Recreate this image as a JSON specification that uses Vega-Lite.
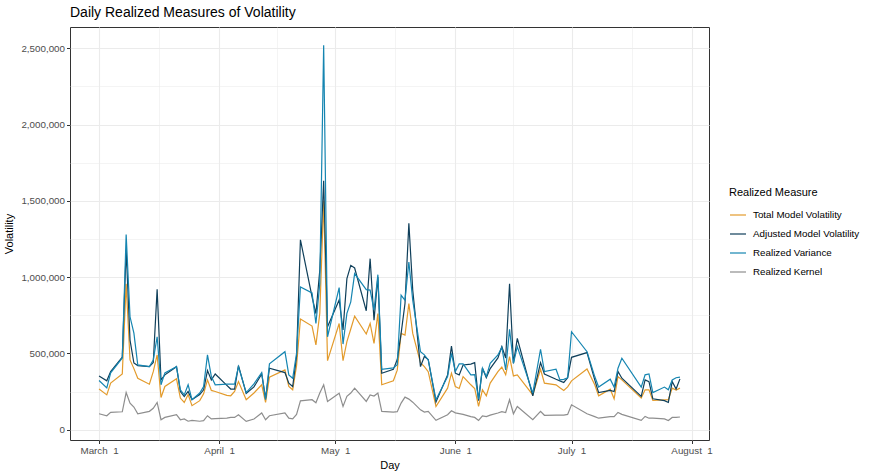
{
  "$schema": "https://vega.github.io/schema/vega-lite/v6.json",
  "width": 639,
  "height": 413,
  "autosize": "none",
  "padding": {"left": 70, "top": 27, "right": 163, "bottom": 36},
  "title": {
    "text": "Daily Realized Measures of Volatility",
    "anchor": "start",
    "frame": "group",
    "fontSize": 14,
    "fontWeight": "normal",
    "color": "#000000",
    "offset": 7
  },
  "config": {
    "font": "Liberation Sans",
    "view": {"stroke": "#333333", "strokeWidth": 1},
    "axis": {
      "domain": false,
      "labelFont": "Liberation Sans",
      "labelFontSize": 9.8,
      "labelColor": "#4d4d4d",
      "tickColor": "#333333",
      "tickSize": 3.5,
      "labelPadding": 2,
      "titleFont": "Liberation Sans",
      "titleFontSize": 11,
      "titleFontWeight": "normal",
      "titleColor": "#000000",
      "gridColor": "#ebebeb"
    },
    "legend": {
      "titleFont": "Liberation Sans",
      "titleFontSize": 11,
      "titleFontWeight": "normal",
      "titleColor": "#000000",
      "labelFont": "Liberation Sans",
      "labelFontSize": 9.8,
      "labelColor": "#000000"
    }
  },
  "data": {
    "values": [
      {"date": "2015-03-01", "Total Model Volatility": 266000, "Adjusted Model Volatility": 352000, "Realized Variance": 322000, "Realized Kernel": 104000},
      {"date": "2015-03-03", "Total Model Volatility": 228000, "Adjusted Model Volatility": 320000, "Realized Variance": 274000, "Realized Kernel": 91000},
      {"date": "2015-03-04", "Total Model Volatility": 305000, "Adjusted Model Volatility": 381000, "Realized Variance": 372000, "Realized Kernel": 113000},
      {"date": "2015-03-07", "Total Model Volatility": 365000, "Adjusted Model Volatility": 476000, "Realized Variance": 470000, "Realized Kernel": 117000},
      {"date": "2015-03-08", "Total Model Volatility": 957000, "Adjusted Model Volatility": 1180000, "Realized Variance": 1280000, "Realized Kernel": 243000},
      {"date": "2015-03-09", "Total Model Volatility": 457000, "Adjusted Model Volatility": 587000, "Realized Variance": 740000, "Realized Kernel": 174000},
      {"date": "2015-03-10", "Total Model Volatility": 400000, "Adjusted Model Volatility": 437000, "Realized Variance": 633000, "Realized Kernel": 148000},
      {"date": "2015-03-11", "Total Model Volatility": 337000, "Adjusted Model Volatility": 420000, "Realized Variance": 424000, "Realized Kernel": 104000},
      {"date": "2015-03-14", "Total Model Volatility": 298000, "Adjusted Model Volatility": 413000, "Realized Variance": 413000, "Realized Kernel": 120000},
      {"date": "2015-03-15", "Total Model Volatility": 380000, "Adjusted Model Volatility": 440000, "Realized Variance": 457000, "Realized Kernel": 140000},
      {"date": "2015-03-16", "Total Model Volatility": 490000, "Adjusted Model Volatility": 920000, "Realized Variance": 609000, "Realized Kernel": 178000},
      {"date": "2015-03-17", "Total Model Volatility": 211000, "Adjusted Model Volatility": 326000, "Realized Variance": 294000, "Realized Kernel": 65000},
      {"date": "2015-03-18", "Total Model Volatility": 283000, "Adjusted Model Volatility": 359000, "Realized Variance": 372000, "Realized Kernel": 80000},
      {"date": "2015-03-21", "Total Model Volatility": 333000, "Adjusted Model Volatility": 413000, "Realized Variance": 413000, "Realized Kernel": 98000},
      {"date": "2015-03-22", "Total Model Volatility": 207000, "Adjusted Model Volatility": 250000, "Realized Variance": 261000, "Realized Kernel": 65000},
      {"date": "2015-03-23", "Total Model Volatility": 178000, "Adjusted Model Volatility": 217000, "Realized Variance": 228000, "Realized Kernel": 70000},
      {"date": "2015-03-24", "Total Model Volatility": 230000, "Adjusted Model Volatility": 250000, "Realized Variance": 294000, "Realized Kernel": 55000},
      {"date": "2015-03-25", "Total Model Volatility": 157000, "Adjusted Model Volatility": 196000, "Realized Variance": 196000, "Realized Kernel": 60000},
      {"date": "2015-03-27", "Total Model Volatility": 190000, "Adjusted Model Volatility": 230000, "Realized Variance": 240000, "Realized Kernel": 55000},
      {"date": "2015-03-28", "Total Model Volatility": 235000, "Adjusted Model Volatility": 261000, "Realized Variance": 283000, "Realized Kernel": 59000},
      {"date": "2015-03-29", "Total Model Volatility": 326000, "Adjusted Model Volatility": 387000, "Realized Variance": 490000, "Realized Kernel": 91000},
      {"date": "2015-03-30", "Total Model Volatility": 257000, "Adjusted Model Volatility": 326000, "Realized Variance": 348000, "Realized Kernel": 70000},
      {"date": "2015-03-31", "Total Model Volatility": 250000, "Adjusted Model Volatility": 365000, "Realized Variance": 294000, "Realized Kernel": 72000},
      {"date": "2015-04-03", "Total Model Volatility": 225000, "Adjusted Model Volatility": 290000, "Realized Variance": 298000, "Realized Kernel": 75000},
      {"date": "2015-04-04", "Total Model Volatility": 222000, "Adjusted Model Volatility": 266000, "Realized Variance": 298000, "Realized Kernel": 80000},
      {"date": "2015-04-05", "Total Model Volatility": 250000, "Adjusted Model Volatility": 266000, "Realized Variance": 298000, "Realized Kernel": 80000},
      {"date": "2015-04-06", "Total Model Volatility": 315000, "Adjusted Model Volatility": 420000, "Realized Variance": 413000, "Realized Kernel": 98000},
      {"date": "2015-04-08", "Total Model Volatility": 196000, "Adjusted Model Volatility": 237000, "Realized Variance": 243000, "Realized Kernel": 54000},
      {"date": "2015-04-10", "Total Model Volatility": 240000, "Adjusted Model Volatility": 280000, "Realized Variance": 300000, "Realized Kernel": 70000},
      {"date": "2015-04-12", "Total Model Volatility": 294000, "Adjusted Model Volatility": 365000, "Realized Variance": 374000, "Realized Kernel": 109000},
      {"date": "2015-04-13", "Total Model Volatility": 178000, "Adjusted Model Volatility": 205000, "Realized Variance": 196000, "Realized Kernel": 65000},
      {"date": "2015-04-14", "Total Model Volatility": 344000, "Adjusted Model Volatility": 403000, "Realized Variance": 431000, "Realized Kernel": 91000},
      {"date": "2015-04-18", "Total Model Volatility": 392000, "Adjusted Model Volatility": 374000, "Realized Variance": 511000, "Realized Kernel": 109000},
      {"date": "2015-04-19", "Total Model Volatility": 283000, "Adjusted Model Volatility": 305000, "Realized Variance": 359000, "Realized Kernel": 75000},
      {"date": "2015-04-20", "Total Model Volatility": 261000, "Adjusted Model Volatility": 283000, "Realized Variance": 337000, "Realized Kernel": 70000},
      {"date": "2015-04-21", "Total Model Volatility": 420000, "Adjusted Model Volatility": 480000, "Realized Variance": 500000, "Realized Kernel": 100000},
      {"date": "2015-04-22", "Total Model Volatility": 725000, "Adjusted Model Volatility": 1245000, "Realized Variance": 935000, "Realized Kernel": 189000},
      {"date": "2015-04-25", "Total Model Volatility": 679000, "Adjusted Model Volatility": 870000, "Realized Variance": 896000, "Realized Kernel": 196000},
      {"date": "2015-04-26", "Total Model Volatility": 555000, "Adjusted Model Volatility": 761000, "Realized Variance": 696000, "Realized Kernel": 176000},
      {"date": "2015-04-27", "Total Model Volatility": 762000, "Adjusted Model Volatility": 1044000, "Realized Variance": 957000, "Realized Kernel": 240000},
      {"date": "2015-04-28", "Total Model Volatility": 1501000, "Adjusted Model Volatility": 1632000, "Realized Variance": 2520000, "Realized Kernel": 294000},
      {"date": "2015-04-29", "Total Model Volatility": 452000, "Adjusted Model Volatility": 674000, "Realized Variance": 609000, "Realized Kernel": 185000},
      {"date": "2015-05-02", "Total Model Volatility": 696000, "Adjusted Model Volatility": 850000, "Realized Variance": 931000, "Realized Kernel": 239000},
      {"date": "2015-05-03", "Total Model Volatility": 452000, "Adjusted Model Volatility": 653000, "Realized Variance": 561000, "Realized Kernel": 152000},
      {"date": "2015-05-04", "Total Model Volatility": 577000, "Adjusted Model Volatility": 990000, "Realized Variance": 762000, "Realized Kernel": 218000},
      {"date": "2015-05-05", "Total Model Volatility": 660000, "Adjusted Model Volatility": 1077000, "Realized Variance": 838000, "Realized Kernel": 240000},
      {"date": "2015-05-06", "Total Model Volatility": 744000, "Adjusted Model Volatility": 1060000, "Realized Variance": 1023000, "Realized Kernel": 272000},
      {"date": "2015-05-09", "Total Model Volatility": 627000, "Adjusted Model Volatility": 779000, "Realized Variance": 918000, "Realized Kernel": 185000},
      {"date": "2015-05-10", "Total Model Volatility": 696000, "Adjusted Model Volatility": 1121000, "Realized Variance": 915000, "Realized Kernel": 228000},
      {"date": "2015-05-11", "Total Model Volatility": 566000, "Adjusted Model Volatility": 718000, "Realized Variance": 783000, "Realized Kernel": 220000},
      {"date": "2015-05-12", "Total Model Volatility": 761000, "Adjusted Model Volatility": 1001000, "Realized Variance": 1016000, "Realized Kernel": 240000},
      {"date": "2015-05-13", "Total Model Volatility": 294000, "Adjusted Model Volatility": 370000, "Realized Variance": 396000, "Realized Kernel": 120000},
      {"date": "2015-05-16", "Total Model Volatility": 320000, "Adjusted Model Volatility": 395000, "Realized Variance": 405000, "Realized Kernel": 115000},
      {"date": "2015-05-17", "Total Model Volatility": 390000, "Adjusted Model Volatility": 460000, "Realized Variance": 425000, "Realized Kernel": 118000},
      {"date": "2015-05-18", "Total Model Volatility": 631000, "Adjusted Model Volatility": 631000, "Realized Variance": 881000, "Realized Kernel": 174000},
      {"date": "2015-05-19", "Total Model Volatility": 620000, "Adjusted Model Volatility": 827000, "Realized Variance": 848000, "Realized Kernel": 213000},
      {"date": "2015-05-20", "Total Model Volatility": 827000, "Adjusted Model Volatility": 1353000, "Realized Variance": 1099000, "Realized Kernel": 200000},
      {"date": "2015-05-21", "Total Model Volatility": 631000, "Adjusted Model Volatility": 914000, "Realized Variance": 848000, "Realized Kernel": 180000},
      {"date": "2015-05-23", "Total Model Volatility": 439000, "Adjusted Model Volatility": 413000, "Realized Variance": 511000, "Realized Kernel": 130000},
      {"date": "2015-05-24", "Total Model Volatility": 413000, "Adjusted Model Volatility": 479000, "Realized Variance": 490000, "Realized Kernel": 115000},
      {"date": "2015-05-25", "Total Model Volatility": 380000, "Adjusted Model Volatility": 460000, "Realized Variance": 457000, "Realized Kernel": 120000},
      {"date": "2015-05-27", "Total Model Volatility": 152000, "Adjusted Model Volatility": 181000, "Realized Variance": 196000, "Realized Kernel": 61000},
      {"date": "2015-05-30", "Total Model Volatility": 272000, "Adjusted Model Volatility": 359000, "Realized Variance": 348000, "Realized Kernel": 98000},
      {"date": "2015-05-31", "Total Model Volatility": 370000, "Adjusted Model Volatility": 548000, "Realized Variance": 500000, "Realized Kernel": 124000},
      {"date": "2015-06-01", "Total Model Volatility": 283000, "Adjusted Model Volatility": 370000, "Realized Variance": 381000, "Realized Kernel": 110000},
      {"date": "2015-06-02", "Total Model Volatility": 270000, "Adjusted Model Volatility": 359000, "Realized Variance": 431000, "Realized Kernel": 105000},
      {"date": "2015-06-03", "Total Model Volatility": 348000, "Adjusted Model Volatility": 424000, "Realized Variance": 431000, "Realized Kernel": 100000},
      {"date": "2015-06-05", "Total Model Volatility": 294000, "Adjusted Model Volatility": 430000, "Realized Variance": 359000, "Realized Kernel": 85000},
      {"date": "2015-06-06", "Total Model Volatility": 270000, "Adjusted Model Volatility": 439000, "Realized Variance": 360000, "Realized Kernel": 80000},
      {"date": "2015-06-07", "Total Model Volatility": 152000, "Adjusted Model Volatility": 190000, "Realized Variance": 200000, "Realized Kernel": 60000},
      {"date": "2015-06-08", "Total Model Volatility": 261000, "Adjusted Model Volatility": 403000, "Realized Variance": 403000, "Realized Kernel": 90000},
      {"date": "2015-06-09", "Total Model Volatility": 222000, "Adjusted Model Volatility": 340000, "Realized Variance": 348000, "Realized Kernel": 85000},
      {"date": "2015-06-10", "Total Model Volatility": 305000, "Adjusted Model Volatility": 400000, "Realized Variance": 435000, "Realized Kernel": 95000},
      {"date": "2015-06-12", "Total Model Volatility": 380000, "Adjusted Model Volatility": 470000, "Realized Variance": 490000, "Realized Kernel": 109000},
      {"date": "2015-06-13", "Total Model Volatility": 410000, "Adjusted Model Volatility": 545000, "Realized Variance": 540000, "Realized Kernel": 118000},
      {"date": "2015-06-14", "Total Model Volatility": 360000, "Adjusted Model Volatility": 470000, "Realized Variance": 392000, "Realized Kernel": 112000},
      {"date": "2015-06-15", "Total Model Volatility": 479000, "Adjusted Model Volatility": 957000, "Realized Variance": 657000, "Realized Kernel": 196000},
      {"date": "2015-06-16", "Total Model Volatility": 352000, "Adjusted Model Volatility": 435000, "Realized Variance": 435000, "Realized Kernel": 104000},
      {"date": "2015-06-17", "Total Model Volatility": 359000, "Adjusted Model Volatility": 598000, "Realized Variance": 544000, "Realized Kernel": 152000},
      {"date": "2015-06-21", "Total Model Volatility": 228000, "Adjusted Model Volatility": 222000, "Realized Variance": 239000, "Realized Kernel": 65000},
      {"date": "2015-06-23", "Total Model Volatility": 396000, "Adjusted Model Volatility": 439000, "Realized Variance": 527000, "Realized Kernel": 120000},
      {"date": "2015-06-24", "Total Model Volatility": 305000, "Adjusted Model Volatility": 365000, "Realized Variance": 381000, "Realized Kernel": 94000},
      {"date": "2015-06-27", "Total Model Volatility": 294000, "Adjusted Model Volatility": 330000, "Realized Variance": 396000, "Realized Kernel": 95000},
      {"date": "2015-06-28", "Total Model Volatility": 275000, "Adjusted Model Volatility": 320000, "Realized Variance": 326000, "Realized Kernel": 95000},
      {"date": "2015-06-29", "Total Model Volatility": 257000, "Adjusted Model Volatility": 309000, "Realized Variance": 330000, "Realized Kernel": 95000},
      {"date": "2015-06-30", "Total Model Volatility": 280000, "Adjusted Model Volatility": 340000, "Realized Variance": 340000, "Realized Kernel": 100000},
      {"date": "2015-07-01", "Total Model Volatility": 320000, "Adjusted Model Volatility": 474000, "Realized Variance": 642000, "Realized Kernel": 163000},
      {"date": "2015-07-05", "Total Model Volatility": 398000, "Adjusted Model Volatility": 505000, "Realized Variance": 511000, "Realized Kernel": 104000},
      {"date": "2015-07-07", "Total Model Volatility": 294000, "Adjusted Model Volatility": 326000, "Realized Variance": 348000, "Realized Kernel": 85000},
      {"date": "2015-07-08", "Total Model Volatility": 222000, "Adjusted Model Volatility": 243000, "Realized Variance": 279000, "Realized Kernel": 75000},
      {"date": "2015-07-11", "Total Model Volatility": 265000, "Adjusted Model Volatility": 257000, "Realized Variance": 331000, "Realized Kernel": 85000},
      {"date": "2015-07-12", "Total Model Volatility": 202000, "Adjusted Model Volatility": 250000, "Realized Variance": 279000, "Realized Kernel": 85000},
      {"date": "2015-07-13", "Total Model Volatility": 348000, "Adjusted Model Volatility": 381000, "Realized Variance": 403000, "Realized Kernel": 113000},
      {"date": "2015-07-14", "Total Model Volatility": 326000, "Adjusted Model Volatility": 337000, "Realized Variance": 468000, "Realized Kernel": 100000},
      {"date": "2015-07-19", "Total Model Volatility": 207000, "Adjusted Model Volatility": 218000, "Realized Variance": 279000, "Realized Kernel": 61000},
      {"date": "2015-07-20", "Total Model Volatility": 261000, "Adjusted Model Volatility": 326000, "Realized Variance": 359000, "Realized Kernel": 87000},
      {"date": "2015-07-21", "Total Model Volatility": 261000, "Adjusted Model Volatility": 315000, "Realized Variance": 365000, "Realized Kernel": 75000},
      {"date": "2015-07-22", "Total Model Volatility": 191000, "Adjusted Model Volatility": 202000, "Realized Variance": 243000, "Realized Kernel": 75000},
      {"date": "2015-07-25", "Total Model Volatility": 195000, "Adjusted Model Volatility": 190000, "Realized Variance": 279000, "Realized Kernel": 70000},
      {"date": "2015-07-26", "Total Model Volatility": 196000, "Adjusted Model Volatility": 178000, "Realized Variance": 261000, "Realized Kernel": 60000},
      {"date": "2015-07-27", "Total Model Volatility": 272000, "Adjusted Model Volatility": 315000, "Realized Variance": 326000, "Realized Kernel": 80000},
      {"date": "2015-07-28", "Total Model Volatility": 260000, "Adjusted Model Volatility": 266000, "Realized Variance": 340000, "Realized Kernel": 80000},
      {"date": "2015-07-29", "Total Model Volatility": 272000, "Adjusted Model Volatility": 333000, "Realized Variance": 344000, "Realized Kernel": 83000}
    ]
  },
  "transform": [
    {
      "fold": ["Total Model Volatility", "Adjusted Model Volatility", "Realized Variance", "Realized Kernel"],
      "as": ["measure", "volatility"]
    }
  ],
  "mark": {"type": "line", "strokeWidth": 1.2, "clip": true},
  "encoding": {
    "x": {
      "field": "date",
      "type": "temporal",
      "title": "Day",
      "scale": {
        "type": "utc",
        "domain": [
          {"year": 2015, "month": 2, "date": 21, "hours": 12, "utc": true},
          {"year": 2015, "month": 8, "date": 5, "hours": 12, "utc": true}
        ]
      },
      "axis": {
        "values": [
          {"year": 2015, "month": 3, "date": 1, "utc": true},
          {"year": 2015, "month": 3, "date": 16, "hours": 12, "utc": true},
          {"year": 2015, "month": 4, "date": 1, "utc": true},
          {"year": 2015, "month": 4, "date": 16, "utc": true},
          {"year": 2015, "month": 5, "date": 1, "utc": true},
          {"year": 2015, "month": 5, "date": 16, "hours": 12, "utc": true},
          {"year": 2015, "month": 6, "date": 1, "utc": true},
          {"year": 2015, "month": 6, "date": 16, "utc": true},
          {"year": 2015, "month": 7, "date": 1, "utc": true},
          {"year": 2015, "month": 7, "date": 16, "hours": 12, "utc": true},
          {"year": 2015, "month": 8, "date": 1, "utc": true}
        ],
        "labelExpr": "utcdate(datum.value) == 1 ? utcFormat(datum.value, '%B') + ' \u00a0' + utcFormat(datum.value, '%-d') : ''",
        "tickOpacity": {"condition": {"test": "utcdate(datum.value) == 1", "value": 1}, "value": 0},
        "gridWidth": {"condition": {"test": "utcdate(datum.value) == 1", "value": 1.1}, "value": 0.55},
        "labelFlush": false,
        "titlePadding": 4
      }
    },
    "y": {
      "field": "volatility",
      "type": "quantitative",
      "title": "Volatility",
      "scale": {"domain": [-68000, 2640000], "nice": false, "zero": false},
      "axis": {
        "values": [0, 250000, 500000, 750000, 1000000, 1250000, 1500000, 1750000, 2000000, 2250000, 2500000],
        "labelExpr": "datum.value % 500000 == 0 ? format(datum.value, ',') : ''",
        "tickOpacity": {"condition": {"test": "datum.value % 500000 == 0", "value": 1}, "value": 0},
        "gridWidth": {"condition": {"test": "datum.value % 500000 == 0", "value": 1.1}, "value": 0.55},
        "labelFlush": false,
        "titlePadding": 6
      }
    },
    "color": {
      "field": "measure",
      "type": "nominal",
      "title": "Realized Measure",
      "scale": {
        "domain": ["Total Model Volatility", "Adjusted Model Volatility", "Realized Variance", "Realized Kernel"],
        "range": ["#e39b2c", "#0f3f5a", "#1585b1", "#8e8e8e"]
      },
      "legend": {
        "orient": "none",
        "legendX": 659,
        "legendY": 160,
        "symbolType": "stroke",
        "symbolSize": 256,
        "symbolStrokeWidth": 1.2,
        "rowPadding": 5,
        "titlePadding": 8,
        "labelOffset": 6
      }
    }
  }
}
